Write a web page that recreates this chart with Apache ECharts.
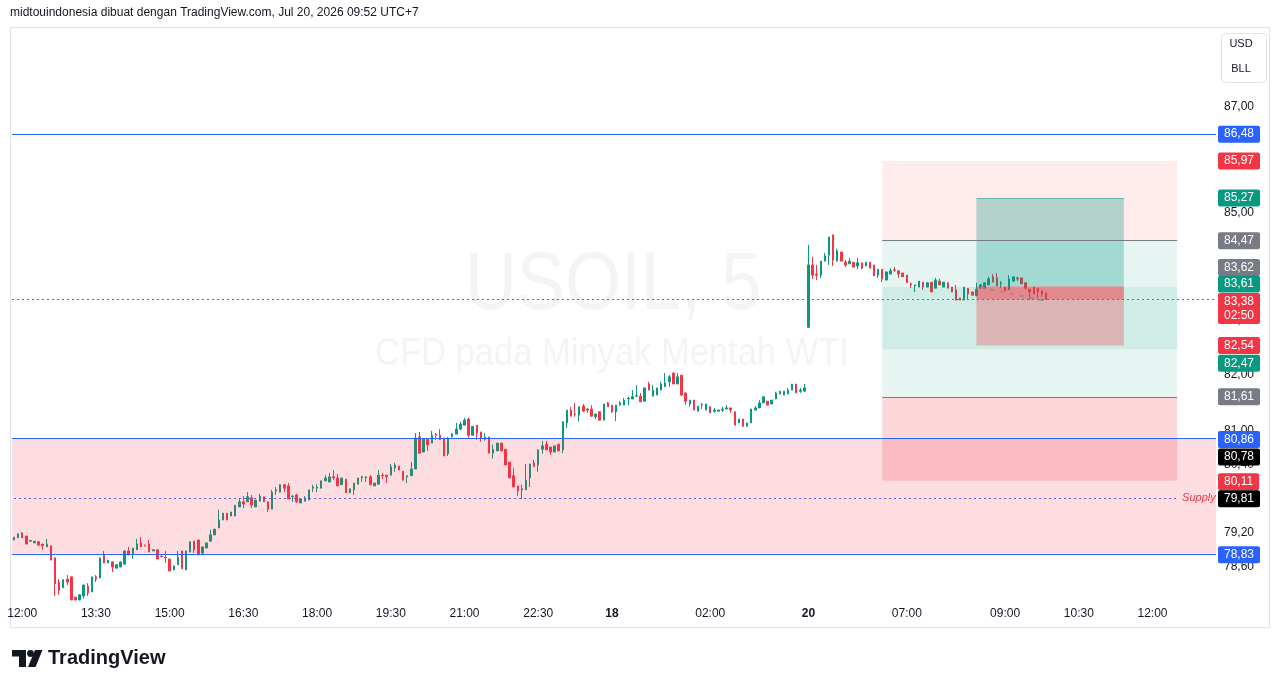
<!DOCTYPE html>
<html>
<head>
<meta charset="UTF-8">
<script src="https://cdn.jsdelivr.net/npm/echarts@6.0.0/dist/echarts.min.js"></script>
<title>USOIL, 5</title>
<style>
  html, body { margin: 0; padding: 0; background: #fff; }
  #main { width: 1281px; height: 688px; }
</style>
</head>
<body>
<div id="main"></div>
<script>
// 5 minute sessions: day, first bar (minutes), number of slots
var sessions = [
  ['17', 11 * 60 + 50, 146],
  ['18', 0, 48],
  ['20', 5 * 60, 100]
];

// [open, close, low, high]
var day17 = [
  [79.07,79.12,79.07,79.12],[79.11,79.18,79.11,79.18],[79.19,79.11,79.11,79.21],[79.14,79.00,79.00,79.14],
  [79.05,79.06,79.04,79.07],[79.02,79.05,79.02,79.05],[79.04,78.98,78.98,79.04],[79.00,78.97,78.90,79.00],
  [78.95,79.00,78.95,79.09],[78.97,78.72,78.72,78.97],[78.76,78.31,78.10,78.76],[78.34,78.19,78.12,78.39],
  [78.24,78.38,78.24,78.38],[78.39,78.34,78.29,78.46],[78.43,78.03,78.03,78.43],[78.08,78.03,78.03,78.08],
  [78.03,78.12,78.03,78.12],[78.10,78.29,78.05,78.29],[78.27,78.15,78.10,78.32],[78.17,78.43,78.17,78.43],
  [78.43,78.39,78.34,78.46],[78.41,78.76,78.41,78.76],[78.81,78.67,78.67,78.88],[78.67,78.72,78.67,78.72],
  [78.69,78.60,78.51,78.69],[78.58,78.64,78.58,78.64],[78.60,78.69,78.60,78.69],[78.65,78.88,78.65,78.88],
  [78.88,78.81,78.81,78.95],[78.83,78.93,78.74,78.93],[78.90,79.00,78.90,79.09],[79.02,78.95,78.95,79.12],
  [78.98,78.97,78.96,78.99],[79.00,78.86,78.86,79.07],[78.88,78.90,78.88,78.90],[78.90,78.74,78.74,78.90],
  [78.79,78.78,78.77,78.80],[78.77,78.76,78.67,78.88],[78.74,78.53,78.53,78.74],[78.55,78.62,78.55,78.62],
  [78.64,78.77,78.64,78.88],[78.88,78.57,78.57,78.88],[78.55,78.88,78.55,78.88],[78.86,79.04,78.86,79.04],
  [79.05,78.90,78.84,79.05],[79.07,78.81,78.81,79.07],[78.84,78.95,78.84,78.95],[78.93,79.02,78.93,79.02],
  [79.05,79.16,79.05,79.25],[79.16,79.26,79.16,79.26],[79.28,79.42,79.28,79.60],[79.42,79.54,79.42,79.54],
  [79.54,79.42,79.42,79.54],[79.49,79.56,79.49,79.56],[79.49,79.68,79.49,79.68],[79.65,79.74,79.65,79.79],
  [79.74,79.70,79.63,79.84],[79.74,79.83,79.74,79.91],[79.81,79.68,79.63,79.86],[79.65,79.77,79.65,79.77],
  [79.75,79.84,79.75,79.88],[79.83,79.74,79.74,79.83],[79.74,79.61,79.56,79.74],[79.61,79.91,79.61,79.95],
  [79.93,79.95,79.86,80.00],[79.91,80.04,79.91,80.05],[80.04,79.98,79.91,80.04],[80.02,79.79,79.79,80.07],
  [79.83,79.84,79.74,79.86],[79.86,79.74,79.72,79.88],[79.72,79.79,79.72,79.79],[79.75,79.81,79.75,79.84],
  [79.77,79.95,79.77,79.95],[79.98,80.00,79.91,80.04],[79.98,80.00,79.91,80.05],[79.98,80.11,79.98,80.11],
  [80.11,80.16,80.11,80.21],[80.09,80.18,80.09,80.25],[80.18,80.16,80.12,80.30],[80.16,80.02,80.02,80.23],
  [80.04,80.16,80.04,80.16],[80.14,79.90,79.90,80.14],[79.90,79.97,79.90,79.97],[79.95,80.07,79.86,80.07],
  [80.05,80.16,80.05,80.16],[80.16,80.18,80.09,80.20],[80.16,80.18,80.09,80.19],[80.18,80.04,80.04,80.21],
  [80.02,80.07,80.02,80.07],[80.05,80.21,80.05,80.30],[80.21,80.20,80.14,80.25],[80.21,80.18,80.07,80.21],
  [80.21,80.36,80.21,80.41],[80.34,80.39,80.27,80.43],[80.37,80.30,80.30,80.37],[80.28,80.12,80.12,80.28],
  [80.18,80.20,80.07,80.20],[80.20,80.32,80.20,80.44],[80.32,80.87,80.32,80.96],[80.89,80.60,80.60,80.98],
  [80.62,80.85,80.62,80.85],[80.85,80.75,80.64,80.85],[80.78,80.92,80.78,81.00],[80.94,80.92,80.84,80.96],
  [80.92,80.84,80.84,81.03],[80.87,80.55,80.55,80.87],[80.59,80.87,80.55,80.89],[80.89,80.94,80.89,80.96],
  [80.94,81.03,80.94,81.14],[81.03,81.12,81.01,81.16],[81.10,81.19,81.10,81.23],[81.21,80.92,80.87,81.23],
  [80.92,81.08,80.92,81.08],[81.10,80.96,80.84,81.10],[80.98,80.87,80.80,80.98],[80.85,80.89,80.82,80.96],
  [80.89,80.60,80.60,80.89],[80.60,80.67,80.50,80.75],[80.64,80.78,80.64,80.78],[80.78,80.64,80.64,80.78],
  [80.67,80.39,80.39,80.67],[80.44,80.16,80.16,80.44],[80.20,80.00,80.00,80.34],[80.02,79.93,79.84,80.02],
  [79.95,79.97,79.79,80.04],[79.95,80.12,79.95,80.41],[80.16,80.41,80.00,80.41],[80.43,80.36,80.36,80.48],
  [80.39,80.66,80.27,80.66],[80.67,80.73,80.59,80.82],[80.76,80.66,80.66,80.82],[80.71,80.62,80.57,80.71],
  [80.62,80.73,80.62,80.73],[80.76,80.64,80.64,80.76],[80.66,81.16,80.60,81.16],[81.14,81.37,81.05,81.37],
  [81.37,81.26,81.26,81.43],[81.30,81.29,81.25,81.50],[81.28,81.43,81.17,81.43],[81.44,81.35,81.35,81.48],
  [81.39,81.37,81.32,81.41],[81.39,81.26,81.26,81.46],[81.25,81.30,81.21,81.30],[81.34,81.19,81.19,81.34],
  [81.19,81.48,81.19,81.48],[81.50,81.43,81.43,81.52]
];

var day18 = [
  [81.46,81.34,81.32,81.46],[81.34,81.46,81.17,81.46],[81.46,81.50,81.46,81.53],[81.46,81.55,81.46,81.59],
  [81.57,81.58,81.46,81.61],[81.57,81.61,81.57,81.73],[81.62,81.63,81.61,81.82],[81.62,81.52,81.52,81.68],
  [81.53,81.77,81.53,81.77],[81.84,81.73,81.73,81.88],[81.62,81.73,81.62,81.82],[81.64,81.77,81.64,81.77],
  [81.73,81.84,81.73,81.88],[81.79,81.86,81.79,82.04],[81.88,81.97,81.79,82.00],[82.04,81.84,81.84,82.04],
  [81.84,81.97,81.84,82.04],[82.00,81.64,81.62,82.00],[81.68,81.53,81.46,81.68],[81.48,81.55,81.43,81.55],
  [81.55,81.37,81.37,81.55],[81.35,81.44,81.35,81.44],[81.46,81.47,81.39,81.50],[81.37,81.48,81.37,81.48],
  [81.43,81.32,81.32,81.43],[81.35,81.37,81.32,81.41],[81.35,81.37,81.34,81.38],[81.37,81.39,81.34,81.43],
  [81.39,81.41,81.39,81.46],[81.41,81.37,81.32,81.41],[81.34,81.10,81.10,81.34],[81.14,81.21,81.14,81.21],
  [81.21,81.08,81.07,81.21],[81.08,81.14,81.08,81.14],[81.14,81.39,81.14,81.39],[81.37,81.41,81.37,81.44],
  [81.41,81.50,81.41,81.55],[81.50,81.61,81.50,81.61],[81.53,81.46,81.46,81.53],[81.48,81.55,81.48,81.55],
  [81.57,81.68,81.57,81.70],[81.66,81.71,81.66,81.71],[81.64,81.71,81.64,81.71],[81.66,81.73,81.66,81.77],
  [81.73,81.84,81.73,81.84],[81.84,81.68,81.68,81.84],[81.71,81.73,81.68,81.77],[81.71,81.77,81.71,81.84]
];

var day20 = [
  [82.87,84.02,82.86,84.39],[84.02,83.83,83.76,84.17],[83.85,83.83,83.74,84.02],[83.83,84.09,83.78,84.09],
  [84.09,84.19,84.09,84.24],[84.20,84.54,84.02,84.54],[84.58,84.11,84.00,84.58],[84.09,84.28,84.09,84.32],
  [84.26,84.09,84.09,84.26],[84.07,84.02,83.98,84.11],[84.04,84.09,84.04,84.15],[84.07,83.98,83.98,84.07],
  [84.00,84.06,83.94,84.15],[84.06,83.96,83.94,84.06],[84.00,84.07,84.00,84.07],[84.07,83.96,83.96,84.07],
  [84.02,83.82,83.82,84.02],[83.83,83.94,83.78,83.94],[83.94,83.76,83.70,83.94],[83.74,83.89,83.74,83.89],
  [83.85,83.91,83.85,83.96],[83.93,83.92,83.89,83.98],[83.91,83.85,83.78,83.91],[83.87,83.80,83.80,83.87],
  [83.83,83.69,83.69,83.83],[83.67,83.65,83.59,83.70],[83.63,83.65,83.52,83.65],[83.61,83.72,83.61,83.72],
  [83.70,83.61,83.56,83.70],[83.61,83.69,83.61,83.70],[83.70,83.52,83.52,83.70],[83.59,83.74,83.59,83.78],
  [83.72,83.65,83.65,83.76],[83.61,83.70,83.61,83.70],[83.69,83.59,83.59,83.69],[83.61,83.52,83.52,83.61],
  [83.56,83.37,83.37,83.65],[83.41,83.37,83.37,83.41],[83.37,83.61,83.37,83.61],[83.59,83.48,83.37,83.59],
  [83.52,83.46,83.46,83.52],[83.45,83.57,83.45,83.69],[83.59,83.65,83.59,83.67],[83.59,83.69,83.59,83.69],
  [83.65,83.76,83.65,83.80],[83.80,83.70,83.70,83.85],[83.78,83.63,83.63,83.87],[83.67,83.69,83.59,83.72],
  [83.61,83.54,83.54,83.61],[83.56,83.76,83.56,83.83],[83.72,83.80,83.72,83.80],[83.78,83.76,83.72,83.80],
  [83.78,83.67,83.67,83.78],[83.69,83.59,83.56,83.69],[83.57,83.52,83.37,83.57],[83.61,83.48,83.48,83.61],
  [83.59,83.52,83.41,83.59],[83.54,83.48,83.43,83.54],[83.50,83.38,83.38,83.50]
];

// time axis labels
var xTicks = [
  ['17 12:00', '12:00'], ['17 13:30', '13:30'], ['17 15:00', '15:00'], ['17 16:30', '16:30'],
  ['17 18:00', '18:00'], ['17 19:30', '19:30'], ['17 21:00', '21:00'], ['17 22:30', '22:30'],
  ['18 00:00', '18'], ['18 02:00', '02:00'], ['20 05:00', '20'], ['20 07:00', '07:00'],
  ['20 09:00', '09:00'], ['20 10:30', '10:30'], ['20 12:00', '12:00']
];

// price scale (log) ticks
var priceTicks = [87, 86, 85, 84, 83, 82, 81, 80.4, 79.8, 79.2, 78.6];

// drawings
var hLines = [86.48, 80.86, 78.83];
var supplyZone = [80.86, 78.83];
var supplyLine = 79.81;
var lastPrice = 83.38;
var countdown = '02:50';
var shortTool = [84.47, 85.97, 82.47];   // entry, stop, target
var longTool = [81.61, 80.11, 83.61];
var longTool2 = [83.62, 82.54, 85.27];
var toolSpan = ['20 06:30', '20 12:30'];
var tool2Span = ['20 08:25', '20 11:25'];
var projection = [['20 08:30', 83.61], ['20 09:50', 83.35]];

// right scale tags
var tagPrices = [86.48, 85.97, 85.27, 84.47, 83.62, 83.61, 83.38, 82.54, 82.47, 81.61, 80.86, 80.78, 80.11, 79.81, 78.83];
var tagColors = ['#2962ff', '#f23645', '#089981', '#787b86', '#787b86', '#089981', '#f23645', '#f23645',
                 '#089981', '#787b86', '#2962ff', '#000000', '#f23645', '#000000', '#2962ff'];
var tagNudge = [0, 0, 0, 0, -19, -3, 9, 0, 14, 0, 1, 14, 1, 1, 1];

var upColor = '#089981', downColor = '#f23645';
var font = '"Liberation Sans", Arial, sans-serif';

var times = [];
sessions.forEach(function (s) {
  for (var k = 0; k < s[2]; k++) {
    var m = s[1] + k * 5;
    var hh = String(Math.floor(m / 60)).padStart(2, '0');
    var mm = String(m % 60).padStart(2, '0');
    times.push(s[0] + ' ' + hh + ':' + mm);
  }
});
var candles = day17.concat(day18, day20);

var xTickMap = {};
xTicks.forEach(function (t) { xTickMap[t[0]] = t[1]; });

function fmt(v) { return v.toFixed(2).replace('.', ','); }

function box(span, top, bottom, color) {
  return [{ xAxis: span[0], yAxis: top, itemStyle: { color: color } }, { xAxis: span[1], yAxis: bottom }];
}
function seg(span, y, style) {
  return [{ xAxis: span[0], yAxis: y, lineStyle: style }, { xAxis: span[1], yAxis: y }];
}

var tagLabel = {
  show: true, position: 'end', distance: 2, color: '#ffffff', fontSize: 12, fontFamily: font,
  padding: [2, 6, 1, 6], lineHeight: 14, borderRadius: 2
};

var chart = echarts.init(document.getElementById('main'));

chart.setOption({
  animation: false,
  backgroundColor: '#ffffff',
  textStyle: { fontFamily: font },
  grid: { left: 12, right: 65, top: 27, bottom: 88 },
  xAxis: {
    type: 'category',
    data: times,
    boundaryGap: true,
    axisLine: { show: false },
    axisTick: { show: false },
    splitLine: { show: false },
    axisLabel: {
      interval: function (idx, val) { return xTickMap[val] !== undefined; },
      formatter: function (val) {
        var t = xTickMap[val];
        return t.length === 2 ? '{d|' + t + '}' : t;
      },
      color: '#131722', fontSize: 12, margin: 8,
      rich: { d: { fontWeight: 'bold', fontSize: 12, color: '#131722' } }
    }
  },
  yAxis: {
    type: 'log',
    logBase: 10,
    min: 78.03,
    max: 88.55,
    position: 'right',
    axisLine: { show: false },
    axisTick: { show: false },
    axisLabel: { show: false },
    splitLine: { show: false }
  },
  graphic: [
    { type: 'rect', z: 0, silent: true, shape: { x: 10.5, y: 27.5, width: 1259, height: 600 },
      style: { fill: null, stroke: '#e0e3eb', lineWidth: 1 } },
    { type: 'text', z: 0, silent: true, x: 613, y: 287, scaleX: 0.89,
      style: { text: 'USOIL, 5', font: '81px ' + font, fill: '#f4f4f5',
               textAlign: 'center', textVerticalAlign: 'middle', align: 'center', verticalAlign: 'middle' } },
    { type: 'text', z: 0, silent: true, x: 612, y: 354, scaleX: 0.885,
      style: { text: 'CFD pada Minyak Mentah WTI', font: '39px ' + font, fill: '#f4f4f5',
               textAlign: 'center', textVerticalAlign: 'middle', align: 'center', verticalAlign: 'middle' } },
    { type: 'text', z: 0, silent: true, x: 10, y: 13,
      style: { text: 'midtouindonesia dibuat dengan TradingView.com, Jul 20, 2026 09:52 UTC+7',
               font: '12px ' + font, fill: '#131722', textVerticalAlign: 'middle', verticalAlign: 'middle' } },
    { type: 'rect', z: 0, silent: true, shape: { x: 1221.5, y: 33.5, width: 45, height: 49, r: 4 },
      style: { fill: '#ffffff', stroke: '#e0e3eb', lineWidth: 1 } },
    { type: 'text', z: 1, silent: true, x: 1241, y: 44,
      style: { text: 'USD', font: '11px ' + font, fill: '#131722', textAlign: 'center', align: 'center',
               textVerticalAlign: 'middle', verticalAlign: 'middle' } },
    { type: 'text', z: 1, silent: true, x: 1241, y: 69,
      style: { text: 'BLL', font: '11px ' + font, fill: '#131722', textAlign: 'center', align: 'center',
               textVerticalAlign: 'middle', verticalAlign: 'middle' } },
    { type: 'polygon', z: 0, silent: true,
      shape: { points: [[12, 650], [26, 650], [26, 667], [19, 667], [19, 656.5], [12, 656.5]] },
      style: { fill: '#131722' } },
    { type: 'circle', z: 0, silent: true, shape: { cx: 30.5, cy: 653.5, r: 3.4 }, style: { fill: '#131722' } },
    { type: 'polygon', z: 0, silent: true,
      shape: { points: [[35, 650], [42.5, 650], [35.5, 667], [28, 667]] },
      style: { fill: '#131722' } },
    { type: 'text', z: 0, silent: true, x: 48, y: 658.5,
      style: { text: 'TradingView', font: 'bold 20px ' + font, fill: '#131722',
               textVerticalAlign: 'middle', verticalAlign: 'middle' } }
  ],
  series: [
    {
      name: 'USOIL',
      type: 'candlestick',
      data: candles,
      barWidth: 2,
      z: 2,
      silent: true,
      itemStyle: {
        color: upColor, color0: downColor,
        borderColor: upColor, borderColor0: downColor,
        borderWidth: 1
      }
    },
    {
      name: 'zones',
      type: 'line',
      data: [],
      z: 3,
      silent: true,
      markArea: {
        z: 3,
        silent: true,
        data: [
          [{ yAxis: supplyZone[0], itemStyle: { color: 'rgba(242,54,69,0.17)' } }, { yAxis: supplyZone[1] }],
          box(toolSpan, shortTool[1], shortTool[0], 'rgba(242,54,69,0.1)'),
          box(toolSpan, shortTool[0], shortTool[2], 'rgba(8,153,129,0.1)'),
          box(toolSpan, longTool[2], longTool[0], 'rgba(8,153,129,0.1)'),
          box(toolSpan, longTool[0], longTool[1], 'rgba(242,54,69,0.2)'),
          box(tool2Span, longTool2[2], longTool2[0], 'rgba(8,153,129,0.3)'),
          box(tool2Span, longTool2[0], longTool2[1], 'rgba(242,54,69,0.3)'),
          box(tool2Span, longTool2[0], lastPrice, 'rgba(242,54,69,0.35)')
        ]
      }
    },
    {
      name: 'lines',
      type: 'line',
      data: [],
      z: 4,
      silent: true,
      markLine: {
        z: 4,
        silent: true,
        symbol: ['none', 'none'],
        label: { show: false },
        data: hLines.map(function (v) {
          return { yAxis: v, lineStyle: { color: '#2962ff', width: 1, type: 'solid' } };
        }).concat([
          [{ xAxis: times[0], yAxis: supplyLine, lineStyle: { color: '#5b5bd6', width: 1, type: [2, 3] },
             label: { show: true, position: 'end', distance: 5, formatter: 'Supply', color: '#f23645',
                      fontStyle: 'italic', fontSize: 11, fontFamily: font } },
           { xAxis: toolSpan[1], yAxis: supplyLine }],
          seg(toolSpan, shortTool[0], { color: '#787b86', width: 1, type: 'solid' }),
          seg(toolSpan, longTool[0], { color: '#787b86', width: 1, type: 'solid' }),
          seg(tool2Span, longTool2[2], { color: 'rgba(8,153,129,0.45)', width: 1, type: 'solid' }),
          [{ xAxis: projection[0][0], yAxis: projection[0][1], symbol: 'none',
             lineStyle: { color: '#8a8d97', width: 1.5, type: [4, 6] } },
           { xAxis: projection[1][0], yAxis: projection[1][1], symbol: 'none' }]
        ])
      }
    },
    {
      name: 'last price',
      type: 'line',
      data: [],
      z: 5,
      silent: true,
      color: '#f23645',
      markLine: {
        z: 5,
        silent: true,
        symbol: ['none', 'none'],
        label: { show: false },
        lineStyle: { color: '#f23645', width: 1, type: [2, 3], opacity: 1 },
        data: [{ yAxis: lastPrice }]
      }
    },
    {
      name: 'scale',
      type: 'line',
      data: [],
      z: 6,
      silent: true,
      markLine: {
        z: 6,
        silent: true,
        symbol: ['none', 'none'],
        lineStyle: { color: 'rgba(0,0,0,0)', width: 0 },
        data: priceTicks.map(function (p) {
          return { yAxis: p, label: { show: true, position: 'end', distance: 2, formatter: fmt(p),
                   color: '#131722', fontSize: 12, fontFamily: font, padding: [2, 6, 1, 6], lineHeight: 14 } };
        })
      }
    },
    {
      name: 'tags',
      type: 'line',
      data: [],
      z: 7,
      silent: true,
      markLine: {
        z: 7,
        silent: true,
        symbol: ['none', 'none'],
        lineStyle: { color: 'rgba(0,0,0,0)', width: 0 },
        data: tagPrices.map(function (p, k) {
          var txt = fmt(p) + (p === lastPrice ? '\n' + countdown : '');
          return {
            yAxis: p,
            label: Object.assign({}, tagLabel, {
              formatter: txt, backgroundColor: tagColors[k], offset: [0, tagNudge[k]]
            })
          };
        })
      }
    }
  ]
});
</script>
</body>
</html>
